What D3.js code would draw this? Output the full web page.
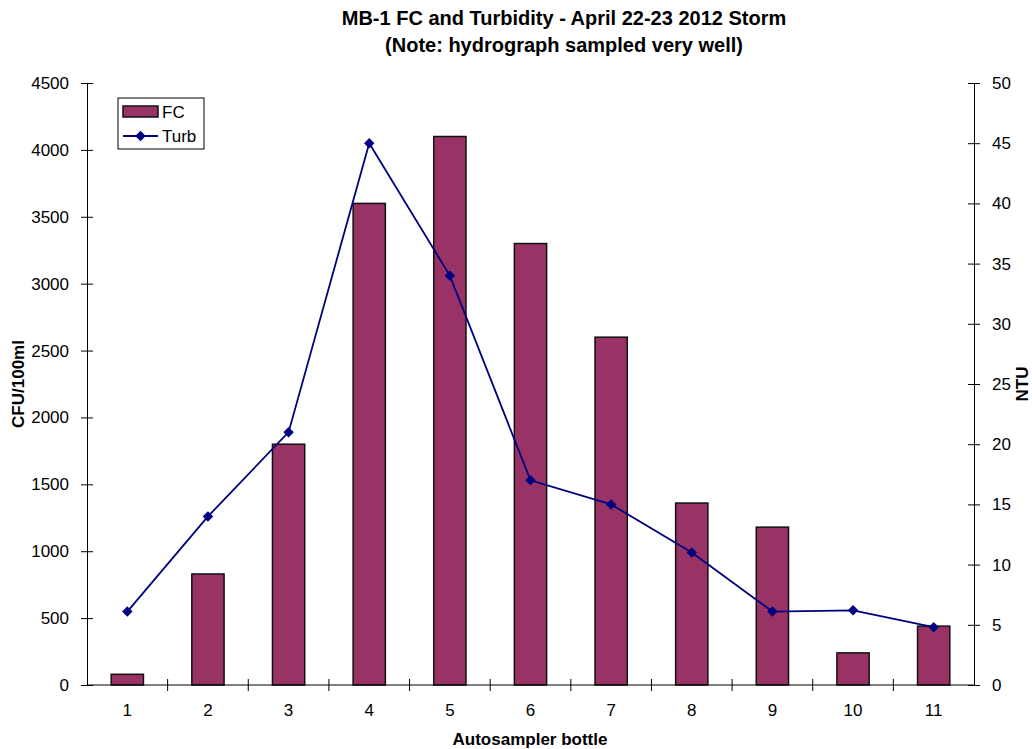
<!DOCTYPE html>
<html>
<head>
<meta charset="utf-8">
<script src="https://cdn.jsdelivr.net/npm/d3@7"></script>
<style>
  body { margin: 0; background: #fff; }
  svg { font-family: "Liberation Sans", Arial, sans-serif; }
</style>
</head>
<body>
<div class="chart"></div>
<script>
var bottles = ['1', '2', '3', '4', '5', '6', '7', '8', '9', '10', '11'];
var fc = [80, 830, 1800, 3600, 4100, 3300, 2600, 1360, 1180, 240, 440];
var turb = [6.1, 14, 21, 45, 34, 17, 15, 11, 6.1, 6.2, 4.8];
var leftTicks = [0, 500, 1000, 1500, 2000, 2500, 3000, 3500, 4000, 4500];
var rightTicks = [0, 5, 10, 15, 20, 25, 30, 35, 40, 45, 50];

var w = 1032,
    h = 749;
var pLeft = 87, pRight = 974, pTop = 83, pBottom = 685;

var svg = d3.select('.chart').append('svg').attr('width', w).attr('height', h);

var x = d3.scaleBand().domain(bottles).range([pLeft, pRight]).paddingInner(0.6).paddingOuter(0.3);
var band = d3.scaleBand().domain(bottles).range([pLeft, pRight]);
var y = d3.scaleLinear().domain([0, 4500]).range([pBottom, pTop]);
var y2 = d3.scaleLinear().domain([0, 50]).range([pBottom, pTop]);

// bars
svg.selectAll('.bar')
  .data(fc)
  .enter().append('rect')
  .attr('class', 'bar')
  .attr('x', function (d, i) { return x(bottles[i]); })
  .attr('y', function (d) { return y(d); })
  .attr('width', x.bandwidth())
  .attr('height', function (d) { return pBottom - y(d); })
  .attr('fill', '#993366')
  .attr('stroke', '#111')
  .attr('stroke-width', 1.5);

// axes
var tickStyle = function (g) {
  g.select('.domain').attr('stroke', '#000');
  g.selectAll('.tick line').attr('stroke', '#000');
  g.selectAll('.tick text').attr('font-size', 17).attr('fill', '#000').attr('font-family', null);
};

var yAxis = svg.append('g').attr('transform', 'translate(' + pLeft + ',0)')
  .call(d3.axisLeft(y).tickValues(leftTicks).tickFormat(d3.format('d')).tickSize(6).tickSizeOuter(0).tickPadding(12));
yAxis.selectAll('.tick line').attr('x2', 6).attr('x1', -6);
tickStyle(yAxis);
yAxis.attr('font-family', null);

var y2Axis = svg.append('g').attr('transform', 'translate(' + pRight + ',0)')
  .call(d3.axisRight(y2).tickValues(rightTicks).tickFormat(d3.format('d')).tickSize(6).tickSizeOuter(0).tickPadding(12));
y2Axis.selectAll('.tick line').attr('x1', -6).attr('x2', 6);
tickStyle(y2Axis);
y2Axis.attr('font-family', null);

// x axis: line, ticks between categories, labels centered
svg.append('line').attr('x1', pLeft).attr('x2', pRight).attr('y1', pBottom).attr('y2', pBottom).attr('stroke', '#000');
var sep = bottles.slice(1).map(function (b) { return band(b); });
svg.selectAll('.xtick').data(sep).enter().append('line')
  .attr('x1', function (d) { return d; }).attr('x2', function (d) { return d; })
  .attr('y1', pBottom - 6).attr('y2', pBottom + 6).attr('stroke', '#000');
svg.selectAll('.xlabel').data(bottles).enter().append('text')
  .attr('x', function (d) { return band(d) + band.bandwidth() / 2; })
  .attr('y', pBottom + 31)
  .attr('text-anchor', 'middle')
  .attr('font-size', 17)
  .text(function (d) { return d; });

// turbidity line
var cx = function (d, i) { return band(bottles[i]) + band.bandwidth() / 2; };
var line = d3.line().x(cx).y(function (d) { return y2(d); });
svg.append('path').datum(turb)
  .attr('d', line).attr('fill', 'none').attr('stroke', '#000080').attr('stroke-width', 1.8);
svg.selectAll('.pt').data(turb).enter().append('path')
  .attr('d', d3.symbol().type(d3.symbolDiamond2).size(70))
  .attr('transform', function (d, i) { return 'translate(' + cx(d, i) + ',' + y2(d) + ')'; })
  .attr('fill', '#000080');

// titles
svg.append('text').attr('x', 564).attr('y', 25).attr('text-anchor', 'middle')
  .attr('font-size', 20).attr('font-weight', 'bold').text('MB-1 FC and Turbidity - April 22-23 2012 Storm');
svg.append('text').attr('x', 564).attr('y', 52).attr('text-anchor', 'middle')
  .attr('font-size', 20).attr('font-weight', 'bold').text('(Note: hydrograph sampled very well)');
svg.append('text').attr('x', 530).attr('y', 745).attr('text-anchor', 'middle')
  .attr('font-size', 17).attr('font-weight', 'bold').text('Autosampler bottle');
svg.append('text').attr('transform', 'translate(24,' + ((pTop + pBottom) / 2) + ') rotate(-90)')
  .attr('text-anchor', 'middle').attr('font-size', 17).attr('font-weight', 'bold').text('CFU/100ml');
svg.append('text').attr('transform', 'translate(1028,' + ((pTop + pBottom) / 2) + ') rotate(-90)')
  .attr('text-anchor', 'middle').attr('font-size', 17).attr('font-weight', 'bold').text('NTU');

// legend
var lg = svg.append('g').attr('transform', 'translate(118,98)');
lg.append('rect').attr('width', 86).attr('height', 51).attr('fill', '#fff').attr('stroke', '#000');
lg.append('rect').attr('x', 5).attr('y', 8).attr('width', 35).attr('height', 11)
  .attr('fill', '#993366').attr('stroke', '#111').attr('stroke-width', 1.5);
lg.append('text').attr('x', 44).attr('y', 20).attr('font-size', 17).text('FC');
lg.append('line').attr('x1', 5).attr('x2', 40).attr('y1', 38).attr('y2', 38)
  .attr('stroke', '#000080').attr('stroke-width', 1.8);
lg.append('path').attr('d', d3.symbol().type(d3.symbolDiamond2).size(70))
  .attr('transform', 'translate(22.5,38)').attr('fill', '#000080');
lg.append('text').attr('x', 44).attr('y', 44).attr('font-size', 17).text('Turb');
</script>
</body>
</html>
